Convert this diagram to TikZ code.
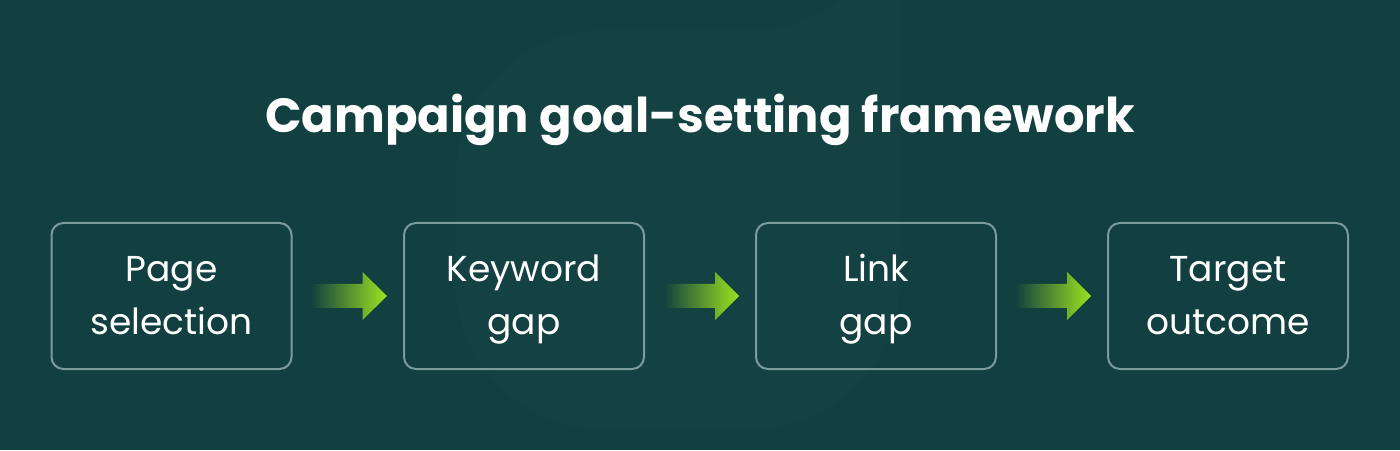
\documentclass[tikz,border=0pt]{standalone}
\usepackage{fontspec}
\setmainfont{Poppins}
\usetikzlibrary{calc}
\definecolor{bg}{HTML}{123F40}
\definecolor{boxline}{HTML}{7A9C9B}
\definecolor{arrowgreen}{HTML}{9BE320}
\newcommand{\boxline}[1]{\vphantom{Ég}#1}
\tikzset{
  stepbox/.style={draw=boxline, line width=2pt, rounded corners=12pt,
    minimum width=240pt, minimum height=146pt, inner sep=0pt,
    align=center, text=white, font=\fontsize{36}{53}\selectfont},
  titletext/.style={text=white, font=\fontsize{48}{58}\selectfont\bfseries, inner sep=0pt, anchor=base}
}
\newcommand{\flowarrow}[2]{%
  \shade[left color=bg, right color=arrowgreen]
    ($(#1.east)+(18,-12)$) -- ($(#1.east)+(70,-12)$) -- ($(#1.east)+(70,-24)$)
    -- ($(#2.west)+(-16,0)$)
    -- ($(#1.east)+(70,24)$) -- ($(#1.east)+(70,12)$) -- ($(#1.east)+(18,12)$) -- cycle;}
\begin{document}
\begin{tikzpicture}[x=1pt,y=1pt]
\fill[bg] (0,0) rectangle (1400,450);
\useasboundingbox (0,0) rectangle (1400,450);
% faint background watermark
\fill[white, opacity=0.012, rounded corners=150pt] (455,20) -- (455,420) -- (900,420) -- (900,450) -- (900,20) -- cycle;
\node[titletext] (title) at (700,317) {Campaign goal-setting framework};
\node[stepbox] (a) at (171.5,154) {\boxline{Page}\\\boxline{selection}};
\node[stepbox] (b) at (524,154) {\boxline{Keyword}\\\boxline{gap}};
\node[stepbox] (c) at (876,154) {\boxline{Link}\\\boxline{gap}};
\node[stepbox] (d) at (1228,154) {\boxline{Target}\\\boxline{outcome}};
\flowarrow{a}{b}
\flowarrow{b}{c}
\flowarrow{c}{d}
\end{tikzpicture}
\end{document}
